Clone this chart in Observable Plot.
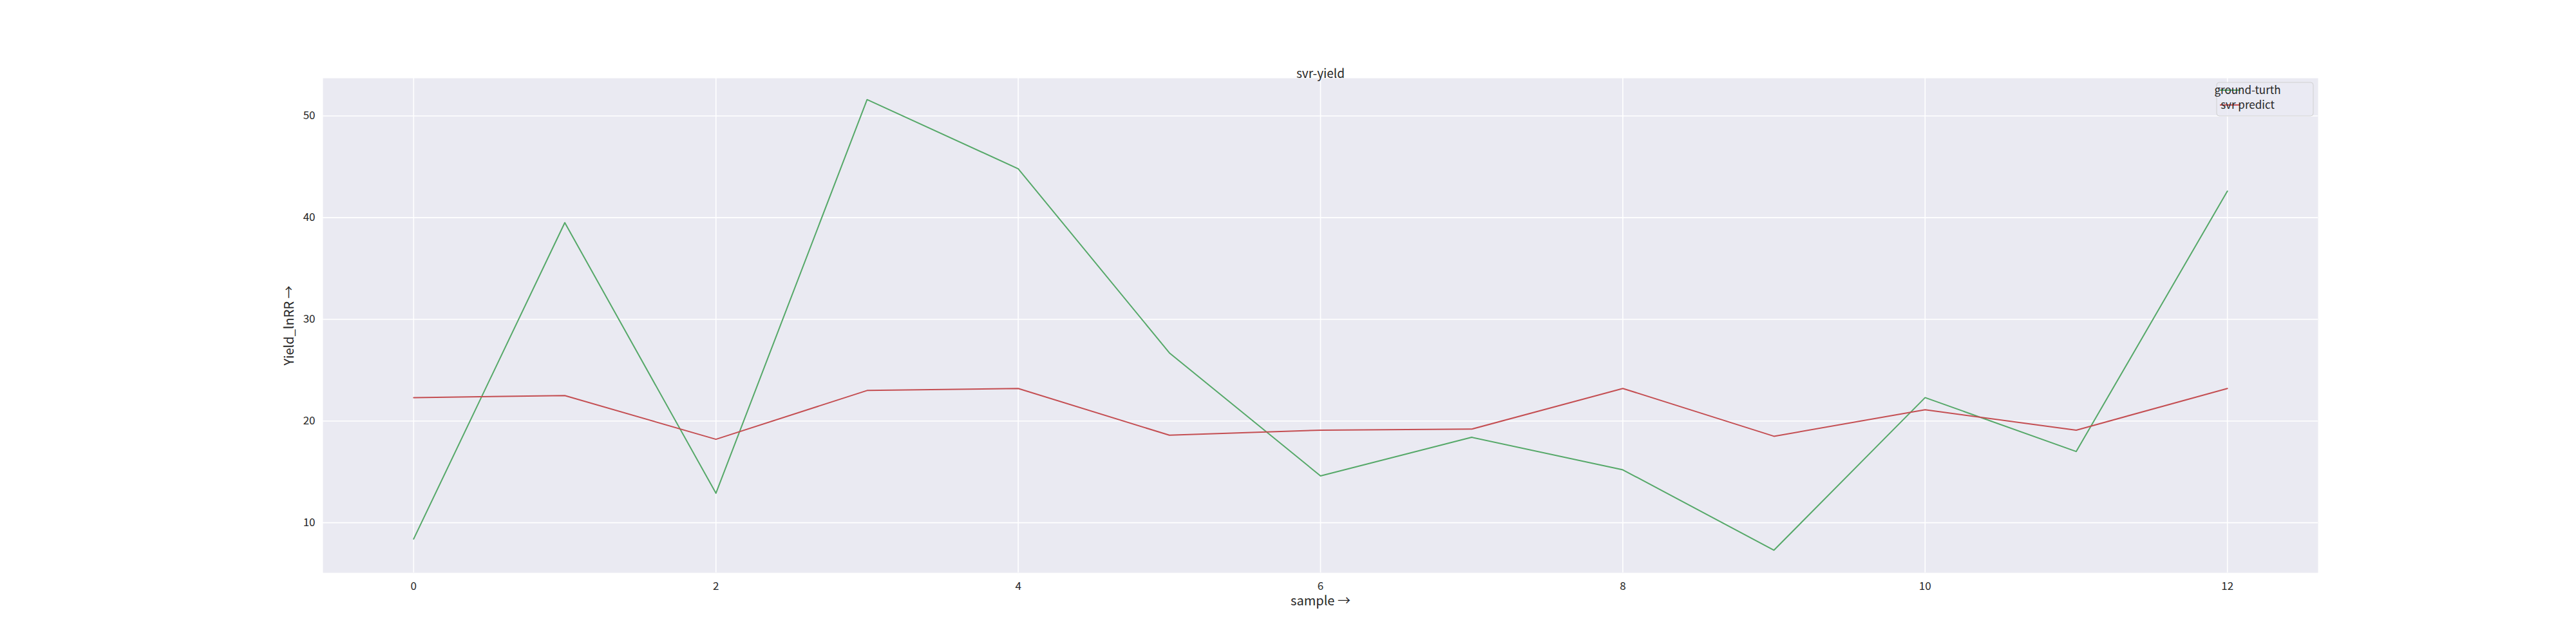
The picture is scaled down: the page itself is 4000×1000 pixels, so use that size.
<!DOCTYPE html>
<html><head><meta charset="utf-8">
<script src="https://cdn.jsdelivr.net/npm/d3@7"></script>
<script src="https://cdn.jsdelivr.net/npm/@observablehq/plot@0.6"></script>
<style>body{margin:0;background:#fff}svg{font-family:"Noto Sans CJK SC","Open Sans",sans-serif}</style>
</head><body><div id="c"></div>
<script>
const samples = [0,1,2,3,4,5,6,7,8,9,10,11,12];
const groundTruth = [8.4,39.5,12.9,51.6,44.8,26.7,14.6,18.4,15.2,7.3,22.3,17.0,42.6];
const svrPredict = [22.3,22.5,18.2,23.0,23.2,18.6,19.1,19.2,23.2,18.5,21.1,19.1,23.2];
const seriesNames = ["ground-turth","svr predict"];
const colors = ["#55a868","#c44e52"];
const data = [];
samples.forEach((s,i)=>{data.push({x:s,y:groundTruth[i],k:seriesNames[0]});data.push({x:s,y:svrPredict[i],k:seriesNames[1]});});
const chart = Plot.plot({
  width:4000,height:1000,
  marginLeft:501,marginRight:401,marginTop:121,marginBottom:111,
  style:{fontSize:"17px",color:"#262626",background:"#fff"},
  x:{domain:[-0.6,12.6],ticks:[0,2,4,6,8,10,12],tickSize:0,tickPadding:14,label:"sample",labelAnchor:"center",labelOffset:50},
  y:{domain:[5.07,53.7],ticks:[10,20,30,40,50],tickSize:0,tickPadding:12,label:"Yield_lnRR",labelAnchor:"center",labelOffset:60},
  color:{domain:seriesNames,range:colors},
  marks:[
    Plot.frame({fill:"#eaeaf2",stroke:null}),
    Plot.gridX([0,2,4,6,8,10,12],{stroke:"#fff",strokeOpacity:1,strokeWidth:1.6}),
    Plot.gridY([10,20,30,40,50],{stroke:"#fff",strokeOpacity:1,strokeWidth:1.6}),
    Plot.line(data,{x:"x",y:"y",z:"k",stroke:"k",strokeWidth:2}),
    Plot.text(["svr-yield"],{frameAnchor:"top",dy:-14,fontSize:19,fill:"#262626"})
  ]
});
document.getElementById("c").appendChild(chart);
const svg = d3.select(chart);
svg.selectAll("[aria-label='x-axis label'] text, [aria-label='y-axis label'] text").style("font-size","20px");
const g = svg.append("g");
g.append("rect").attr("x",3442).attr("y",128).attr("width",150).attr("height",52).attr("rx",4)
 .attr("fill","#eaeaf2").attr("fill-opacity",0.8).attr("stroke","#d0d0d0");
seriesNames.forEach((n,i)=>{
  const y=140+i*23;
  g.append("line").attr("x1",3447).attr("x2",3479).attr("y1",y).attr("y2",y).attr("stroke",colors[i]).attr("stroke-width",2);
  g.append("text").attr("x",3490).attr("y",y+6).attr("font-size",17).attr("fill","#262626").text(n);
});
</script></body></html>
